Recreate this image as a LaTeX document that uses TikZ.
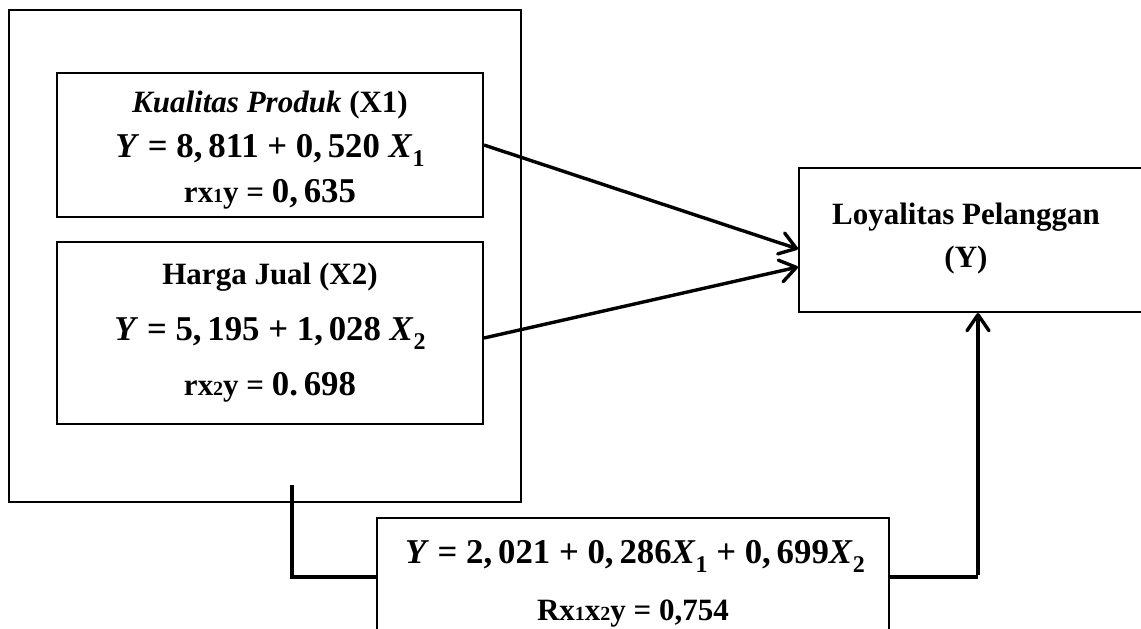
\documentclass[tikz,border=0pt]{standalone}
\usepackage{fontspec}
\setmainfont{Liberation Serif}
\usetikzlibrary{arrows.meta}
\newcommand\txtsz{\fontsize{15.5}{18.6}\selectfont\bfseries}
\newcommand\eqsz{\fontsize{17.4}{20}\selectfont\bfseries}
\newcommand\smallidx[1]{{\fontsize{10}{10}\selectfont #1}}
\newcommand\eqsub[1]{\raisebox{-0.28em}{\fontsize{12}{12}\selectfont #1}}
\begin{document}
\begin{tikzpicture}[x=0.5pt,y=-0.5pt,
  box/.style={draw,line width=1pt,inner sep=0pt},
  lbl/.style={anchor=base,inner sep=0pt,font=\txtsz},
  eq/.style={anchor=base,inner sep=0pt,font=\eqsz},
  link/.style={line width=1.7pt,-{Straight Barb[length=8pt,width=11pt,line width=1.7pt,round]}},
  elbow/.style={line width=1.8pt}]
\useasboundingbox (0,0) rectangle (1141,628);
\clip (0,0) rectangle (1141,628);
% boxes
\node[box,minimum width=256pt,minimum height=246pt] (outer) at (265,256) {};
\node[box,minimum width=213pt,minimum height=72pt] (x1box) at (270,145) {};
\node[box,minimum width=213pt,minimum height=91pt] (x2box) at (270,333) {};
\node[box,minimum width=179pt,minimum height=72pt] (ybox) at (978,240) {};
\node[box,minimum width=256pt,minimum height=91pt] (bot) at (633,609) {};
% texts
\node[lbl] (t1) at (270,112) {\textit{Kualitas Produk} (X1)};
\node[eq] (e1) at (270,157) {\textit{Y} = 8,\,811 + 0,\,520 \textit{X}\eqsub{1}};
\node[lbl] (r1) at (270,202) {rx\smallidx{1}y = {\eqsz 0,\,635}};
\node[lbl] (t2) at (270,284) {Harga Jual (X2)};
\node[eq] (e2) at (270,340) {\textit{Y} = 5,\,195 + 1,\,028 \textit{X}\eqsub{2}};
\node[lbl] (r2) at (270,395) {rx\smallidx{2}y = {\eqsz 0.\,698}};
\node[lbl] (ty1) at (966,224) {Loyalitas Pelanggan};
\node[lbl] (ty2) at (966,267) {(Y)};
\node[eq] (e3) at (635,563) {\textit{Y} = 2,\,021 + 0,\,286\textit{X}\eqsub{1} + 0,\,699\textit{X}\eqsub{2}};
\node[lbl] (r3) at (633,620) {Rx\smallidx{1}x\smallidx{2}y = 0,754};
% connectors
\draw[link] (x1box.east) -- ([yshift=-4.5pt]ybox.west);
\draw[link] ([yshift=-2.5pt]x2box.east) -- ([yshift=-13.5pt]ybox.west);
\coordinate (tick) at (292,485);
\coordinate (jl) at (292,577);
\coordinate (jr) at (978,577);
\draw[elbow] (tick) -- (jl) -- (jl -| bot.west);
\draw[elbow] (bot.east |- jr) -- (jr);
\draw[link] ([yshift=0.9pt]jr) -- (ybox.south);
\end{tikzpicture}
\end{document}
